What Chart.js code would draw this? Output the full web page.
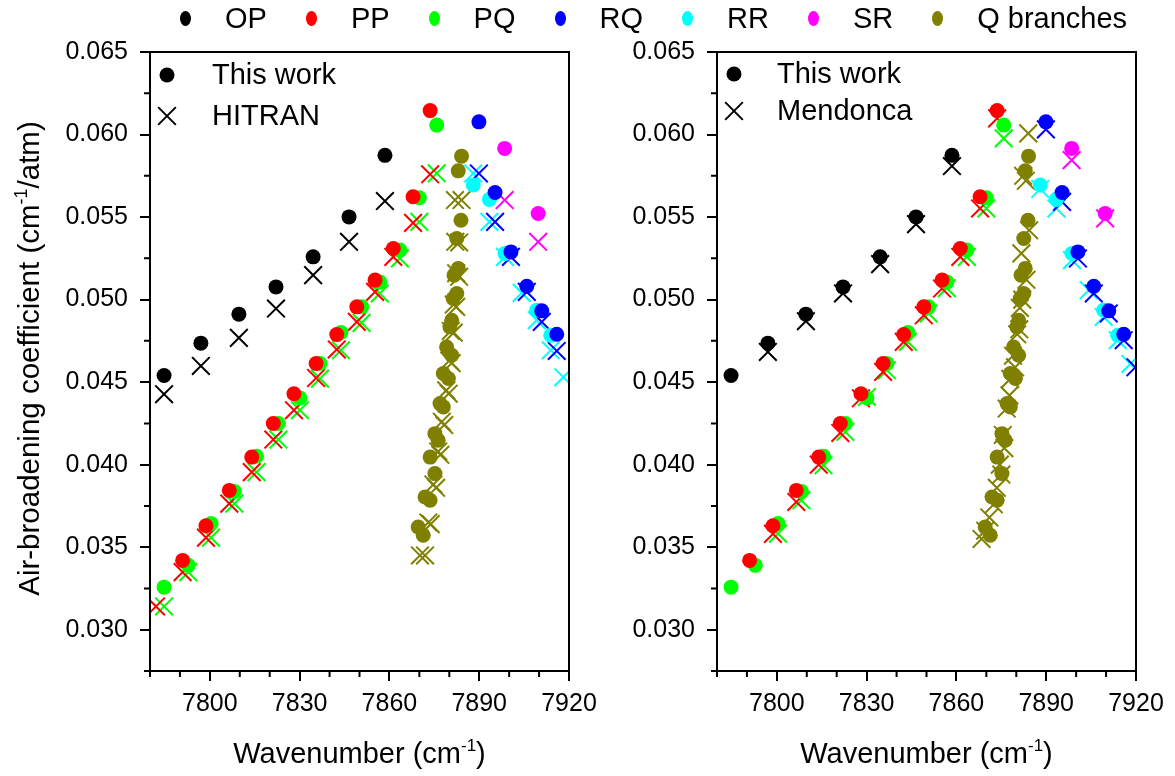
<!DOCTYPE html>
<html>
<head>
<meta charset="utf-8">
<script src="https://cdn.jsdelivr.net/npm/chart.js@4.4.1/dist/chart.umd.min.js"></script>
<style>
    body { margin: 0; background: #fff; font-family: "Liberation Sans", Arial, sans-serif; }
    #wrap { position: relative; width: 1175px; height: 776px; overflow: hidden; }
    #wrap canvas { position: absolute; left: 0; top: 0; }
    #legend { position: absolute; left: 180px; top: 0; height: 36px; display: flex; align-items: center; font-size: 29px; color: #000; }
    #legend .item { display: flex; align-items: center; margin-right: 39px; }
    #legend .dot { width: 11px; height: 15px; border-radius: 50%; margin-right: 34px; }
</style>
</head>
<body>
<div id="wrap">
    <canvas id="left-chart" width="1175" height="776"></canvas>
    <canvas id="right-chart" width="1175" height="776"></canvas>
    <div id="legend"></div>
</div>
<script>
// ---------------------------------------------------------------------------
// Data: wavenumber (cm-1) and air-broadening coefficient (cm-1/atm)
// ---------------------------------------------------------------------------

const opX        = [7784.7, 7797.0, 7809.7, 7822.1, 7834.5, 7846.5, 7858.5];
const opWork     = [0.0454, 0.04736, 0.04912, 0.05077, 0.05259, 0.05501, 0.05874];
const opHitran   = [0.04427, 0.04598, 0.04768, 0.04946, 0.05148, 0.0535, 0.05597];
const opMendonca = [null, 0.04683, 0.04869, 0.05037, 0.05215, 0.05457, 0.05809];

const ppX        = [7782.0, 7790.9, 7798.7, 7806.5, 7814.0, 7821.2, 7828.1, 7835.5, 7842.4, 7849.1, 7855.2, 7861.3, 7867.9, 7873.6];
const ppWork     = [null, 0.0342, 0.0363, 0.03844, 0.04046, 0.04249, 0.0443, 0.04613, 0.04788, 0.04956, 0.05118, 0.0531, 0.05623, 0.06145];
const ppHitran   = [0.03141, 0.03349, 0.03558, 0.03764, 0.03955, 0.04152, 0.0433, 0.04525, 0.04698, 0.04865, 0.05047, 0.05259, 0.05465, 0.05759];
const ppMendonca = [null, null, 0.03581, 0.03774, 0.0400, 0.04192, 0.04402, 0.04562, 0.04744, 0.04905, 0.05067, 0.05259, 0.05552, 0.06098];

const pqX        = [7784.7, 7792.8, 7800.4, 7808.2, 7815.6, 7822.9, 7830.1, 7836.8, 7843.8, 7850.7, 7856.8, 7863.5, 7870.0, 7875.8];
const pqWork     = [0.03258, 0.0339, 0.03643, 0.03838, 0.04051, 0.04249, 0.04404, 0.04613, 0.04801, 0.04956, 0.05106, 0.053, 0.05617, 0.06057];
const pqHitran   = [0.03141, 0.03349, 0.03558, 0.03764, 0.03955, 0.04152, 0.0433, 0.04521, 0.04693, 0.04859, 0.05037, 0.0525, 0.05471, 0.05765];
const pqMendonca = [null, null, 0.03582, 0.03784, 0.03996, 0.04198, 0.0441, 0.04572, 0.04744, 0.04916, 0.05069, 0.05259, 0.05552, 0.05977];

const rqX        = [7889.9, 7895.3, 7900.6, 7905.9, 7910.9, 7915.9, 7919.8];
const rqWork     = [0.06077, 0.05649, 0.05289, 0.05081, 0.04932, 0.0479, null];
const rqHitran   = [0.05764, 0.05471, 0.05259, 0.05047, 0.04865, 0.04689, null];
const rqMendonca = [0.06031, 0.05592, 0.05249, 0.05037, 0.04916, 0.04754, 0.0459];

const rrX        = [7888.0, 7893.4, 7898.6, 7904.2, 7909.2, 7913.9, 7918.1];
const rrWork     = [0.05694, 0.05607, 0.0528, null, 0.04936, 0.04784, null];
const rrHitran   = [0.05764, 0.05471, 0.05259, 0.05041, 0.04875, 0.04693, 0.0453];
const rrMendonca = [0.0567, 0.05552, 0.05239, 0.05057, 0.04895, 0.04754, 0.0461];

const srX        = [7898.5, 7909.7];
const srWork     = [0.05916, 0.05522];
const srHitran   = [0.05603, 0.0535];
const srMendonca = [0.05845, 0.05492];

const qWorkX = [7884.1, 7883.0, 7883.9, 7882.5, 7883.0, 7881.6, 7882.5, 7881.3, 7880.8, 7880.2, 7879.1, 7880.8,
                7878.0, 7879.7, 7876.9, 7878.0, 7875.2, 7876.3, 7873.6, 7875.2, 7871.9, 7873.6, 7869.6, 7871.3];
const qWorkY = [0.05869, 0.0578, 0.05481, 0.0537, 0.05189, 0.05148, 0.05037, 0.05007, 0.04875, 0.04835, 0.04713, 0.04663,
                0.04552, 0.04522, 0.0437, 0.0435, 0.04188, 0.04148, 0.04046, 0.03946, 0.03804, 0.03784, 0.03622, 0.03572];
const qHitranX = [7881.9, 7884.1, 7882.0, 7883.3, 7882.3, 7883.3, 7881.5, 7882.3, 7880.5, 7881.5, 7880.0, 7880.8,
                  7879.0, 7879.8, 7877.5, 7878.3, 7876.3, 7877.0, 7874.7, 7875.6, 7873.0, 7873.8, 7870.2, 7871.9];
const qHitranY = [0.05603, 0.05603, 0.0535, 0.05346, 0.0516, 0.05138, 0.0497, 0.04956, 0.0481, 0.048, 0.0463, 0.04615,
                  0.0445, 0.0443, 0.0426, 0.0424, 0.0408, 0.0406, 0.0388, 0.0386, 0.0365, 0.0364, 0.0345, 0.0345];
const qMendX = [7884.0, 7882.3, 7883.2, 7884.3, 7881.7, 7883.4, 7881.2, 7882.0, 7881.0, 7880.3, 7878.9, 7879.6,
                7878.0, 7877.7, 7876.8, 7875.5, 7876.0, 7874.5, 7875.0, 7873.5, 7872.5, 7871.0, 7869.6, 7868.4];
const qMendY = [0.06007, 0.0575, 0.0572, 0.0542, 0.0528, 0.0512, 0.0495, 0.0500, 0.0482, 0.0479, 0.0466, 0.0459,
                0.0452, 0.0442, 0.0434, 0.0418, 0.0410, 0.0400, 0.0394, 0.0386, 0.0376, 0.0368, 0.0360, 0.0355];

const branchNames  = ['OP', 'PP', 'PQ', 'RQ', 'RR', 'SR', 'Q branches'];
const branchColors = ['#000000', '#ff0000', '#00ff00', '#0000ff', '#00ffff', '#ff00ff', '#808000'];

// Axis ticks
const xTicks = [7800, 7830, 7860, 7890, 7920];
const xMinor = [7780, 7790, 7810, 7820, 7840, 7850, 7870, 7880, 7900, 7910];
const yTicks = [0.030, 0.035, 0.040, 0.045, 0.050, 0.055, 0.060, 0.065];
const yMinor = [0.0275, 0.0325, 0.0375, 0.0425, 0.0475, 0.0525, 0.0575, 0.0625];

const FONT = '"Liberation Sans", Arial, sans-serif';

// ---------------------------------------------------------------------------
// Helpers
// ---------------------------------------------------------------------------

function pts(xs, ys) {
    return xs.map((x, i) => ({ x, y: ys[i] })).filter(p => p.y !== null && p.y !== undefined);
}

function circleSet(label, color, data) {
    return {
        label, data, showLine: false,
        pointStyle: 'circle', pointRadius: 7.5, pointHoverRadius: 7.5,
        backgroundColor: color, borderColor: color, pointBorderWidth: 0,
    };
}

function crossSet(label, color, data) {
    return {
        label, data, showLine: false,
        pointStyle: 'crossRot', pointRadius: 12.5, pointHoverRadius: 12.5,
        backgroundColor: color, borderColor: color, pointBorderWidth: 2,
    };
}

// text with "-1" style superscripts, centred on x
function richText(ctx, parts, x, y, size) {
    const big = size + 'px ' + FONT;
    const small = Math.round(size * 0.6) + 'px ' + FONT;
    let w = 0;
    parts.forEach(p => { ctx.font = p.sup ? small : big; w += ctx.measureText(p.t).width; });
    let cx = x - w / 2;
    ctx.textAlign = 'left';
    ctx.textBaseline = 'alphabetic';
    parts.forEach(p => {
        ctx.font = p.sup ? small : big;
        ctx.fillText(p.t, cx, p.sup ? y - size * 0.4 : y);
        cx += ctx.measureText(p.t).width;
    });
}

// Box frame, minor ticks, axis titles and the inner legend
const decorations = {
    id: 'decorations',
    afterDraw(chart, args, opts) {
        const { ctx, chartArea: a, scales: { x, y } } = chart;
        ctx.save();
        ctx.strokeStyle = '#000';
        ctx.fillStyle = '#000';
        ctx.lineWidth = 2;
        ctx.strokeRect(a.left, a.top, a.right - a.left, a.bottom - a.top);

        ctx.beginPath();
        xMinor.forEach(v => {
            const px = x.getPixelForValue(v);
            ctx.moveTo(px, a.bottom); ctx.lineTo(px, a.bottom + 6);
        });
        yMinor.forEach(v => {
            const py = y.getPixelForValue(v);
            ctx.moveTo(a.left, py); ctx.lineTo(a.left - 6, py);
        });
        ctx.stroke();

        // x title
        richText(ctx, [{ t: 'Wavenumber (cm' }, { t: '-1', sup: true }, { t: ')' }],
                 (a.left + a.right) / 2, 763, 29);

        // y title (left panel only)
        if (opts.yTitle) {
            ctx.save();
            ctx.translate(39, (a.top + a.bottom) / 2 - 3);
            ctx.rotate(-Math.PI / 2);
            richText(ctx, [{ t: 'Air-broadening coefficient (cm' }, { t: '-1', sup: true }, { t: '/atm)' }], 0, 0, 29.5);
            ctx.restore();
        }

        // inner legend: filled circle = this work, cross = reference data
        const mx = a.left + 17;
        const r1 = a.top + opts.rows[0];
        const r2 = a.top + opts.rows[1];
        ctx.beginPath();
        ctx.arc(mx, r1, 7.5, 0, Math.PI * 2);
        ctx.fill();
        const d = 12.5 * Math.SQRT1_2;
        ctx.beginPath();
        ctx.moveTo(mx - d, r2 - d); ctx.lineTo(mx + d, r2 + d);
        ctx.moveTo(mx + d, r2 - d); ctx.lineTo(mx - d, r2 + d);
        ctx.stroke();
        ctx.font = '29px ' + FONT;
        ctx.textAlign = 'left';
        ctx.textBaseline = 'middle';
        ctx.fillText('This work', a.left + opts.textOffset, r1 + 1);
        ctx.fillText(opts.refLabel, a.left + opts.textOffset, r2 + 1);
        ctx.restore();
    }
};

function makePanel(canvasId, refKey, refLabel, side) {
    const work = [
        pts(opX, opWork), pts(ppX, ppWork), pts(pqX, pqWork), pts(rqX, rqWork),
        pts(rrX, rrWork), pts(srX, srWork), pts(qWorkX, qWorkY),
    ];
    const ref = refKey === 'hitran' ? [
        pts(opX, opHitran), pts(ppX, ppHitran), pts(pqX, pqHitran), pts(rqX, rqHitran),
        pts(rrX, rrHitran), pts(srX, srHitran), pts(qHitranX, qHitranY),
    ] : [
        pts(opX, opMendonca), pts(ppX, ppMendonca), pts(pqX, pqMendonca), pts(rqX, rqMendonca),
        pts(rrX, rrMendonca), pts(srX, srMendonca), pts(qMendX, qMendY),
    ];

    const datasets = [];
    work.forEach((data, i) => datasets.push(circleSet(branchNames[i] + ' this work', branchColors[i], data)));
    ref.forEach((data, i) => datasets.push(crossSet(branchNames[i] + ' ' + refLabel, branchColors[i], data)));

    const tickFont = { family: FONT, size: 25 };

    return new Chart(document.getElementById(canvasId), {
        type: 'scatter',
        data: { datasets },
        options: {
            responsive: false,
            animation: false,
            events: [],
            layout: { autoPadding: false, padding: side.padding },
            plugins: {
                legend: { display: false },
                tooltip: { enabled: false },
                decorations: side.deco,
            },
            scales: {
                x: {
                    type: 'linear', position: 'bottom', min: 7780, max: 7920,
                    afterBuildTicks: axis => { axis.ticks = xTicks.map(v => ({ value: v })); },
                    afterFit: axis => { axis.height = 105; axis.paddingLeft = 0; axis.paddingRight = 0; },
                    ticks: {
                        color: '#000', font: tickFont, padding: 8, maxRotation: 0, autoSkip: false,
                        callback: v => String(v),
                    },
                    grid: { drawOnChartArea: false, tickLength: 10, lineWidth: 2, color: '#000' },
                    border: { color: '#000', width: 2 },
                },
                y: {
                    type: 'linear', position: 'left', min: 0.0275, max: 0.065,
                    afterBuildTicks: axis => { axis.ticks = yTicks.map(v => ({ value: v })); },
                    afterFit: axis => { axis.width = side.yWidth; axis.paddingTop = 0; axis.paddingBottom = 0; },
                    ticks: {
                        color: '#000', font: tickFont, padding: 12, autoSkip: false,
                        callback: v => v.toFixed(3),
                    },
                    grid: { drawOnChartArea: false, tickLength: 10, lineWidth: 2, color: '#000' },
                    border: { color: '#000', width: 2 },
                },
            },
        },
        plugins: [decorations],
    });
}

makePanel('left-chart', 'hitran', 'HITRAN', {
    padding: { top: 52, left: 0, right: 606, bottom: 0 },
    yWidth: 150,
    deco: { yTitle: true, refLabel: 'HITRAN', rows: [23, 64], textOffset: 62 },
});

makePanel('right-chart', 'mendonca', 'Mendonca', {
    padding: { top: 52, left: 587, right: 39, bottom: 0 },
    yWidth: 130,
    deco: { yTitle: false, refLabel: 'Mendonca', rows: [22, 59], textOffset: 60 },
});

// Branch legend across the top
const legend = document.getElementById('legend');
branchNames.forEach((name, i) => {
    const item = document.createElement('div');
    item.className = 'item';
    const dot = document.createElement('span');
    dot.className = 'dot';
    dot.style.background = branchColors[i];
    const label = document.createElement('span');
    label.textContent = name;
    item.appendChild(dot);
    item.appendChild(label);
    legend.appendChild(item);
});
</script>
</body>
</html>
